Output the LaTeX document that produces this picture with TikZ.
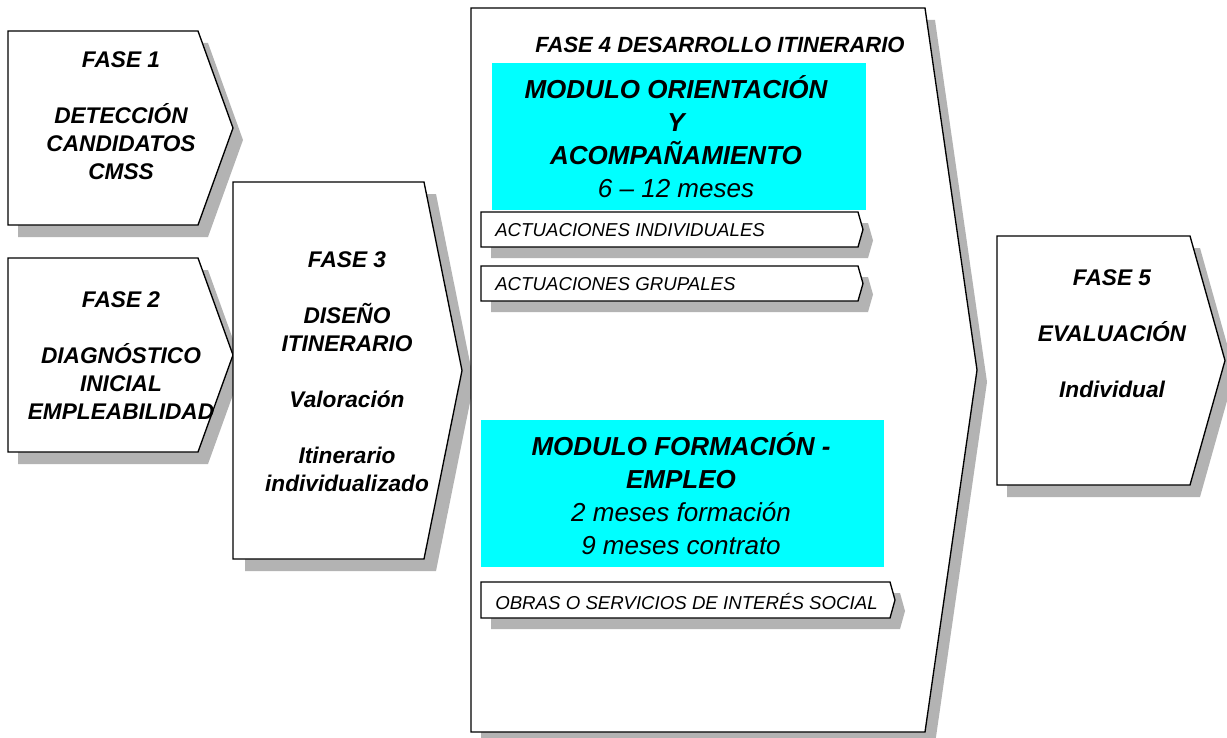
\documentclass[tikz,border=0pt]{standalone}
\usepackage{fontspec}
\setmainfont{Liberation Sans}
\usepackage{tikz}
\usetikzlibrary{positioning}
\definecolor{shadowgrey}{HTML}{B3B3B3}
\definecolor{modulecyan}{HTML}{00FFFF}
\newcommand\linewd{1pt}
\tikzstyle{graph}      = [line width=\linewd, draw=black]
\tikzstyle{fasetext}   = [align=center, inner sep=0pt, font=\fontsize{17}{21}\selectfont\bfseries\itshape]
\tikzstyle{titletext}  = [inner sep=0pt, font=\fontsize{16.5}{20}\selectfont\bfseries\itshape]
\tikzstyle{modulotext} = [align=center, inner sep=0pt, font=\fontsize{19.5}{24.75}\selectfont\itshape]
\tikzstyle{actuacion}  = [anchor=west, inner sep=0pt, font=\fontsize{14}{16}\selectfont\itshape]
\newcommand\chevron[6]{%
  \fill[shadowgrey, shift={(#6)}]
    (#1,#2) -- (#3,#2) -- (#5,{(#2+#4)/2}) -- (#3,#4) -- (#1,#4) -- cycle;
  \filldraw[graph, fill=white]
    (#1,#2) -- (#3,#2) -- (#5,{(#2+#4)/2}) -- (#3,#4) -- (#1,#4) -- cycle;
}

\begin{document}
\begin{tikzpicture}[x=0.75pt, y=-0.75pt]
  \useasboundingbox (0, 0) rectangle (1227, 738);
  \chevron{8}{31}{198}{225}{233}{10,12}
  \chevron{8}{258}{198}{452}{233}{10,12}
  \chevron{233}{182}{424}{559}{462}{12,12}
  \chevron{471}{8}{925}{732}{977}{10,12}
  \chevron{997}{236}{1190}{485}{1225}{10,12}
  \draw (121, 116) node[fasetext] (fase1) {FASE 1\\[21pt] DETECCIÓN\\ CANDIDATOS\\ CMSS};
  \draw (121, 356) node[fasetext] (fase2) {FASE 2\\[21pt] DIAGNÓSTICO\\ INICIAL\\ EMPLEABILIDAD};
  \draw (347, 372) node[fasetext] (fase3)
    {FASE 3\\[21pt] DISEÑO\\ ITINERARIO\\[21pt] Valoración\\[21pt] Itinerario\\ individualizado};
  \draw (1112, 334) node[fasetext] (fase5) {FASE 5\\[21pt] EVALUACIÓN\\[21pt] Individual};
  \draw (720, 45) node[titletext] (fase4) {FASE 4 DESARROLLO ITINERARIO};
  \fill[modulecyan] (492, 63) rectangle (866, 210);
  \draw (676, 137) node[modulotext] (orientacion)
    {\textbf{MODULO ORIENTACIÓN}\\ \textbf{Y}\\ \textbf{ACOMPAÑAMIENTO}\\ 6 – 12 meses};
  \chevron{481}{212}{858}{247}{863}{10,11}
  \draw (495, 230) node[actuacion] (individuales) {ACTUACIONES INDIVIDUALES};
  \chevron{481}{266}{858}{301}{863}{10,11}
  \draw (495, 284) node[actuacion] (grupales) {ACTUACIONES GRUPALES};
  \fill[modulecyan] (481, 420) rectangle (884, 567);
  \draw (681, 494) node[modulotext] (formacion)
    {\textbf{MODULO FORMACIÓN -}\\ \textbf{EMPLEO}\\ 2 meses formación\\ 9 meses contrato};
  \chevron{481}{582}{890}{618}{895}{10,11}
  \draw (495, 601) node[actuacion] (obras) {OBRAS O SERVICIOS DE INTERÉS SOCIAL};
\end{tikzpicture}
\end{document}
